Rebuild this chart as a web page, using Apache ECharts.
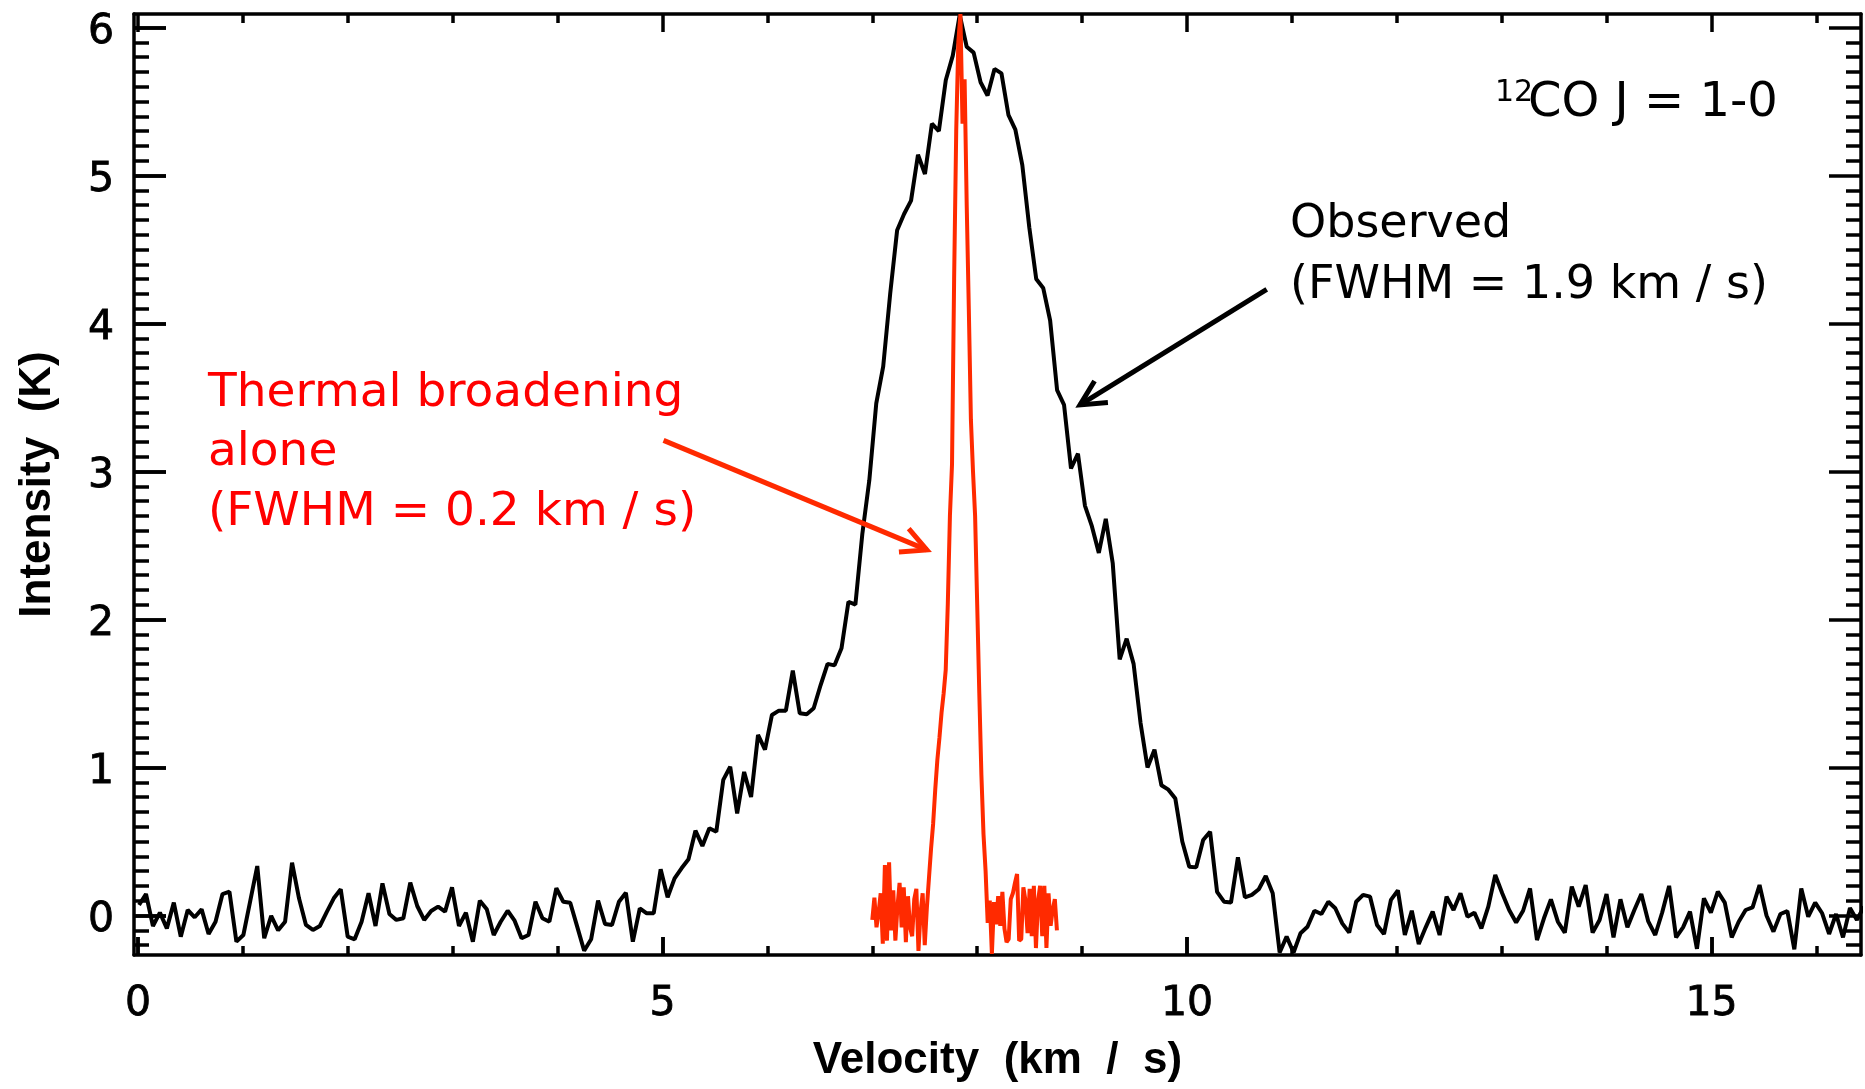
<!DOCTYPE html>
<html>
<head>
<meta charset="utf-8">
<script src="https://cdn.jsdelivr.net/npm/echarts@6/dist/echarts.min.js"></script>
<style>
  html, body { margin: 0; background: #fff; }
  #chart { width: 1865px; height: 1089px; }
</style>
</head>
<body>
<div id="chart"></div>
<script>
// observed 12CO J=1-0 spectrum, one value per channel
const obsStart = 0.01 // km/s, first channel
const obsStep = 0.0663 // km/s per channel
const observed = [
  0.071, 0.145, -0.071, 0.019, -0.087, 0.087, -0.143, 0.037, -0.012, 0.041,
  -0.125, -0.042, 0.145, 0.161, -0.177, -0.132, 0.10, 0.334, -0.154, -0.003,
  -0.10, -0.042, 0.357, 0.116, -0.064, -0.098, -0.071, 0.024, 0.116, 0.177,
  -0.143, -0.161, -0.042, 0.15, -0.071, 0.217, 0.01, -0.03, -0.019, 0.222,
  0.064, -0.03, 0.03, 0.06, 0.026, 0.19, -0.071, 0.019, -0.177, 0.10,
  0.042, -0.132, -0.042, 0.032, -0.035, -0.154, -0.132, 0.093, -0.019, -0.042,
  0.184, 0.093, 0.086, -0.075, -0.238, -0.161, 0.10, -0.057, -0.064, 0.093,
  0.154, -0.177, 0.048, 0.015, 0.015, 0.312, 0.123, 0.251, 0.319, 0.38,
  0.573, 0.47, 0.589, 0.566, 0.916, 1.005, 0.69, 0.97, 0.80, 1.22,
  1.12, 1.355, 1.384, 1.384, 1.654, 1.366, 1.36, 1.40, 1.557, 1.70,
  1.69, 1.805, 2.12, 2.10, 2.58, 2.94, 3.46, 3.71, 4.20, 4.63,
  4.74, 4.83, 5.14, 5.01, 5.35, 5.30, 5.645, 5.81, 6.085, 5.87,
  5.83, 5.63, 5.54, 5.72, 5.69, 5.41, 5.31, 5.07, 4.65, 4.30,
  4.24, 4.02, 3.55, 3.45, 3.02, 3.12, 2.77, 2.63, 2.45, 2.68,
  2.38, 1.73, 1.87, 1.70, 1.30, 1.00, 1.12, 0.88, 0.85, 0.79,
  0.50, 0.33, 0.325, 0.51, 0.566, 0.16, 0.093, 0.087, 0.393, 0.123,
  0.139, 0.177, 0.267, 0.15, -0.25, -0.143, -0.25, -0.12, -0.076, 0.032,
  0.01, 0.093, 0.049, -0.053, -0.116, 0.093, 0.139, 0.127, -0.064, -0.125,
  0.105, 0.17, -0.132, 0.032, -0.193, -0.08, 0.026, -0.132, 0.127, 0.037,
  0.15, -0.008, 0.019, -0.087, 0.06, 0.274, 0.15, 0.037, -0.048, 0.032,
  0.183, -0.166, -0.019, 0.109, -0.042, -0.116, 0.195, 0.06, 0.206, -0.116,
  -0.03, 0.145, -0.148, 0.109, -0.08, 0.037, 0.145, -0.04, -0.132, 0.02,
  0.2, -0.148, -0.08, 0.026, -0.225, 0.116, 0.019, 0.161, 0.087, -0.148,
  -0.042, 0.037, 0.055, 0.206, 0.0, -0.109, 0.01, 0.03, -0.229, 0.183,
  -0.008, 0.087, 0.015, -0.125, 0.01, -0.148, 0.05, -0.03, 0.06
]

// thermal broadening only model, finer sampling
const thermStart = 7.0
const thermStep = 0.02
const thermal = [
  -0.03, 0.12, -0.08, 0.02, 0.15, -0.19, 0.34, -0.17, 0.36, -0.10,
  0.17, -0.17, 0.06, 0.22, -0.08, 0.19, -0.18, 0.13, -0.08, -0.14,
  0.11, 0.18, -0.24, 0.02, 0.15, -0.20, 0.05, 0.25, 0.45, 0.62,
  0.85, 1.05, 1.20, 1.37, 1.50, 1.66, 2.11, 2.70, 3.05, 4.30,
  5.30, 5.90, 6.09, 5.35, 5.65, 4.80, 4.10, 3.35, 3.00, 2.70,
  2.10, 1.50, 0.95, 0.55, 0.30, -0.05, 0.10, -0.26, 0.09, -0.06,
  0.13, -0.07, 0.16, -0.09, -0.18, -0.16, 0.11, 0.15, 0.22, 0.28,
  -0.17, -0.16, 0.19, 0.10, -0.12, 0.18, -0.14, 0.20, -0.22, 0.10,
  0.20, -0.14, 0.20, -0.22, 0.15, -0.07, 0.04, 0.11, -0.10
]

const xMajor = [0, 5, 10, 15]
const xMinor = [0, 1, 2, 3, 4, 5, 6, 7, 8, 9, 10, 11, 12, 13, 14, 15, 16]
const yMajor = [0, 1, 2, 3, 4, 5, 6]
const yMinor = []
for (let k = -2; k <= 60; k++) yMinor.push(k / 10)

// arrows, [tail, tip] in data units
const obsArrow = [[10.76, 4.23], [8.98, 3.45]]
const thermArrow = [[5.01, 3.21], [7.52, 2.47]]

const xMin = -0.038
const xMax = 16.425
const yMin = -0.267
const yMax = 6.091

const RED = '#ff2a00'
const FONT = '"DejaVu Sans", sans-serif'
const BOLD = '"Liberation Sans", sans-serif'

const gridBox = { left: 134, right: 4, top: 14, bottom: 134 }
const plotW = 1865 - gridBox.left - gridBox.right
const plotH = 1089 - gridBox.top - gridBox.bottom
const xPerPx = (xMax - xMin) / plotW
const yPerPx = (yMax - yMin) / plotH

const obsData = observed.map((v, i) => [obsStart + i * obsStep, v])
const thermData = thermal.map((v, i) => [thermStart + i * thermStep, v])

// inward ticks on all four edges as short mark lines
const tickLines = []
xMinor.forEach(v => {
  const len = (xMajor.includes(v) ? 18 : 9) * yPerPx
  tickLines.push([{ coord: [v, yMin] }, { coord: [v, yMin + len] }])
  tickLines.push([{ coord: [v, yMax] }, { coord: [v, yMax - len] }])
})
yMinor.forEach(v => {
  const len = (yMajor.includes(v) ? 32 : 15) * xPerPx
  tickLines.push([{ coord: [xMin, v] }, { coord: [xMin + len, v] }])
  tickLines.push([{ coord: [xMax, v] }, { coord: [xMax - len, v] }])
})

const tickLabel = { color: '#000', fontSize: 41, fontFamily: FONT, textBorderColor: '#000', textBorderWidth: 0.8 }
const axisLine = { show: true, onZero: false, lineStyle: { color: '#000', width: 3.5 } }

const chart = echarts.init(document.getElementById('chart'))
chart.setOption({
  animation: false,
  backgroundColor: '#fff',
  grid: Object.assign({ containLabel: false }, gridBox),
  xAxis: [
    {
      type: 'value', position: 'bottom', min: xMin, max: xMax,
      axisLine: axisLine,
      axisTick: { show: true, inside: true, length: 18, customValues: xMajor, lineStyle: { color: '#000', width: 3.5 } },
      axisLabel: Object.assign({ customValues: xMajor, margin: 29 }, tickLabel),
      splitLine: { show: false },
      name: 'Velocity  (km  /  s)',
      nameLocation: 'middle',
      nameGap: 84,
      nameTextStyle: { color: '#000', fontSize: 44, fontWeight: 'bold', fontFamily: BOLD }
    },
    {
      type: 'value', position: 'top', min: xMin, max: xMax,
      axisLine: axisLine, axisTick: { show: false }, axisLabel: { show: false }, splitLine: { show: false }
    }
  ],
  yAxis: [
    {
      type: 'value', position: 'left', min: yMin, max: yMax,
      axisLine: axisLine,
      axisTick: { show: true, inside: true, length: 32, customValues: yMajor, lineStyle: { color: '#000', width: 3.5 } },
      axisLabel: Object.assign({
        customValues: yMajor, margin: 20,
        formatter: v => '{a|' + v + '}',
        rich: { a: Object.assign({ padding: [9, 0, 0, 0] }, tickLabel) }
      }, tickLabel),
      splitLine: { show: false },
      name: 'Intensity  (K)',
      nameLocation: 'middle',
      nameRotate: 90,
      nameGap: 74,
      nameTextStyle: { color: '#000', fontSize: 44, fontWeight: 'bold', fontFamily: BOLD }
    },
    {
      type: 'value', position: 'right', min: yMin, max: yMax,
      axisLine: axisLine, axisTick: { show: false }, axisLabel: { show: false }, splitLine: { show: false }
    }
  ],
  series: [
    {
      type: 'line', name: 'Observed', data: obsData, xAxisIndex: 0, yAxisIndex: 0,
      showSymbol: false, lineStyle: { color: '#000', width: 4 }, z: 2,
      markLine: {
        silent: true, animation: false, symbol: ['none', 'none'], precision: 6,
        label: { show: false },
        lineStyle: { color: '#000', width: 3.5, type: 'solid' },
        emphasis: { disabled: true },
        data: tickLines
      }
    },
    {
      type: 'line', name: 'Thermal', data: thermData, xAxisIndex: 0, yAxisIndex: 0,
      showSymbol: false, lineStyle: { color: RED, width: 4 }, z: 3
    }
  ]
})

const px = p => chart.convertToPixel({ gridIndex: 0 }, p)

// arrow shaft plus open head
function arrow (pts, color) {
  const tail = px(pts[0])
  const tip = px(pts[1])
  const dx = tail[0] - tip[0]
  const dy = tail[1] - tip[1]
  const d = Math.hypot(dx, dy)
  const ux = dx / d
  const uy = dy / d
  const len = 28
  const a = 27 * Math.PI / 180
  const arm = s => [tip[0] + len * (ux * Math.cos(a) - s * uy * Math.sin(a)),
    tip[1] + len * (s * ux * Math.sin(a) + uy * Math.cos(a))]
  return [
    { type: 'polyline', shape: { points: [tail, tip] }, style: { stroke: color, lineWidth: 5, fill: null }, z: 10 },
    { type: 'polyline', shape: { points: [arm(1), tip, arm(-1)] }, style: { stroke: color, lineWidth: 5, fill: null, lineJoin: 'miter' }, z: 10 }
  ]
}

function label (text, x, y, color, size, lh) {
  return {
    type: 'text', x: x, y: y, z: 10,
    style: {
      text: text, fill: color, font: size + 'px ' + FONT,
      lineHeight: lh, align: 'left', textAlign: 'left',
      verticalAlign: 'top', textVerticalAlign: 'top'
    }
  }
}

chart.setOption({
  graphic: [
    ...arrow(obsArrow, '#000'),
    ...arrow(thermArrow, RED),
    label('Thermal broadening\nalone\n(FWHM = 0.2 km / s)', 208, 364, '#ff0000', 47, 59.5),
    label('Observed\n(FWHM = 1.9 km / s)', 1290, 195, '#000', 46, 61),
    label('12', 1495, 78, '#000', 30, 30),
    label('CO J = 1-0', 1528, 80, '#000', 48, 48)
  ]
})
</script>
</body>
</html>
